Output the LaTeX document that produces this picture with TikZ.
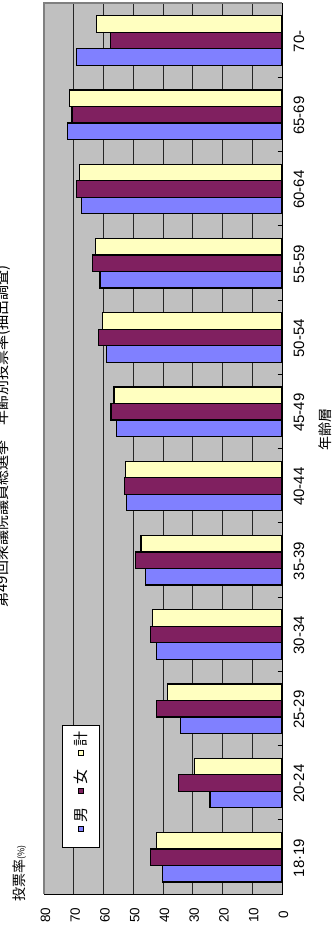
\documentclass[tikz,border=0pt]{standalone}
\usepackage{fontspec}
\setmainfont{Liberation Sans}
\newfontfamily\jpfont{Noto Sans CJK JP}
\usetikzlibrary{positioning}
\definecolor{plotgray}{RGB}{192,192,192}
\definecolor{malebar}{RGB}{128,128,255}
\definecolor{femalebar}{RGB}{128,32,96}
\definecolor{totalbar}{RGB}{255,255,192}

\begin{document}
\begin{tikzpicture}[x=1pt, y=-1pt,
    bar/.style={draw=black, line width=1.2pt},
    gridline/.style={draw=black!85, line width=0.8pt},
    axisline/.style={draw=black, line width=1pt},
    vallabel/.style={rotate=90, inner sep=0pt, font=\fontsize{13.5}{16}\selectfont},
    catlabel/.style={rotate=90, inner sep=0pt, font=\fontsize{15}{18}\selectfont},
    axistitle/.style={rotate=90, inner sep=0pt, font=\jpfont\fontsize{14}{17}\selectfont},
    legendbox/.style={draw=black, fill=white, line width=0.8pt, minimum width=36.6pt, minimum height=122pt, inner sep=0pt},
    keymark/.style={draw=black, line width=0.6pt, minimum size=5pt, inner sep=0pt},
    keytext/.style={rotate=90, inner sep=0pt, font=\jpfont\fontsize{15}{18}\selectfont}]
    \useasboundingbox (0,0) rectangle (334,926);

    % plot area and grid
    \fill[plotgray] (44,3) rectangle (282,894);
    \foreach \v in {10,20,...,70}
        \draw[gridline] (282-2.975*\v,3) -- (282-2.975*\v,894);
    \draw[draw=black!50, line width=1.5pt] (44,894) -- (44,3) -- (282,3);

    % bars: male, female, total
    \foreach \lab/\m/\f/\t [count=\i from 0] in {18·19/40.3/44.1/42.1, 20-24/24.2/34.9/29.3,
        25-29/34.1/42.2/38.4, 30-34/42.1/44.3/43.4, 35-39/45.8/49.2/47.4, 40-44/52.2/52.9/52.5,
        45-49/55.6/57.5/56.5, 50-54/58.9/61.7/60.4, 55-59/61.2/63.7/62.6, 60-64/67.5/69.2/68.2,
        65-69/72.0/70.6/71.3, 70-/69.0/57.6/62.3}
    {
        \pgfmathsetmacro\yb{894-74.25*\i}
        \draw[bar, fill=malebar] (282,\yb-12) rectangle (282-2.975*\m,\yb-28.5);
        \draw[bar, fill=femalebar] (282,\yb-28.5) rectangle (282-2.975*\f,\yb-45);
        \draw[bar, fill=totalbar] (282,\yb-45) rectangle (282-2.975*\t,\yb-61.5);
        \node[catlabel] (cat\i) at (299,\yb-36) {\lab};
    }

    % axes
    \draw[axisline] (282,3) -- (282,894) -- (44,894);
    \foreach \k in {1,...,11}
        \draw[axisline] (277.5,894-74.25*\k) -- (282,894-74.25*\k);
    \foreach \v in {0,10,...,80}
        \node[vallabel] (val\v) at (283.5-2.975*\v,915) {\v};

    % titles
    \node[rotate=90, inner sep=0pt, font=\jpfont\fontsize{15}{18}\selectfont] (title) at (3,436.5)
        {第49回衆議院議員総選挙　年齢別投票率(抽出調査)};
    \node[axistitle, anchor=west] (ytitle) at (19.5,902) {投票率{\fontsize{9}{11}\selectfont(\%)}};
    \node[axistitle] (xtitle) at (325,429) {年齢層};

    % legend
    \node[legendbox] (legend) at (81,786.7) {};
    \node[keymark, fill=malebar] (keym) at (81,829) {};
    \node[keymark, fill=femalebar] (keyf) at (81,791) {};
    \node[keymark, fill=totalbar] (keyt) at (81,753) {};
    \node[keytext, above=4pt of keym, anchor=west] (textm) {男};
    \node[keytext, above=4pt of keyf, anchor=west] (textf) {女};
    \node[keytext, above=4pt of keyt, anchor=west] (textt) {計};
\end{tikzpicture}
\end{document}
